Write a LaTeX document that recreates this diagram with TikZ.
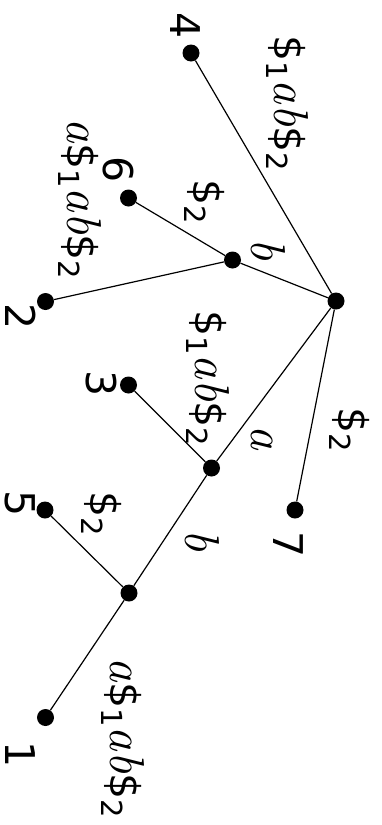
\documentclass[tikz,border=0pt]{standalone}
\usepackage{fontspec}
\setmainfont{DejaVu Sans}
\newfontfamily\lmit{Latin Modern Roman}
\newcommand\iv[1]{{\lmit\itshape\fontsize{49}{49}\selectfont #1}}
\newcommand\sbs[1]{\raisebox{-9pt}{\fontsize{29}{29}\selectfont #1}}
\begin{document}
\begin{tikzpicture}[x=1pt,y=-1pt,
  dot/.style={circle,fill=black,inner sep=0pt,minimum size=17pt},
  lbl/.style={rotate=-90,inner sep=0pt,font=\fontsize{41}{41}\selectfont},
  edge/.style={line width=1.2pt}]
\useasboundingbox (0,0) rectangle (382,825);
% internal nodes
\node[dot] (r) at (336,301) {};
\node[dot] (b) at (232.5,260) {};
\node[dot] (a) at (211.5,468) {};
\node[dot] (ab) at (129,593) {};
% leaves
\node[dot] (l4) at (191,53) {};
\node[dot] (l6) at (128.5,198) {};
\node[dot] (l2) at (45.5,301.5) {};
\node[dot] (l3) at (128.5,385) {};
\node[dot] (l7) at (295,510) {};
\node[dot] (l5) at (45,510) {};
\node[dot] (l1) at (45.5,717.5) {};
% edges
\draw[edge] (r) -- (l4);
\draw[edge] (r) -- (b);
\draw[edge] (b) -- (l6);
\draw[edge] (b) -- (l2);
\draw[edge] (r) -- (a);
\draw[edge] (r) -- (l7);
\draw[edge] (a) -- (l3);
\draw[edge] (a) -- (ab);
\draw[edge] (ab) -- (l5);
\draw[edge] (ab) -- (l1);
% leaf labels
\node[lbl] (t4) at (185,26) {4};
\node[lbl] (t6) at (118.5,170) {6};
\node[lbl] (t2) at (20.5,317) {2};
\node[lbl] (t3) at (101,384) {3};
\node[lbl] (t7) at (288,545) {7};
\node[lbl] (t5) at (20,504) {5};
\node[lbl] (t1) at (20.5,755) {1};
% edge labels
\node[lbl] (e4) at (287.5,103) {\$\sbs{1}\iv{ab}\$\sbs{2}};
\node[lbl] (e6) at (205,202) {\$\sbs{2}};
\node[lbl] (eb) at (268,250) {\iv{b}};
\node[lbl] (e2) at (80,199) {\iv{a}\$\sbs{1}\iv{ab}\$\sbs{2}};
\node[lbl] (e3) at (208,378) {\$\sbs{1}\iv{ab}\$\sbs{2}};
\node[lbl] (ea) at (262,438) {\iv{a}};
\node[lbl] (e7) at (350,430) {\$\sbs{2}};
\node[lbl] (e5) at (102,514) {\$\sbs{2}};
\node[lbl] (eab) at (202,541) {\iv{b}};
\node[lbl] (e1) at (123,738) {\iv{a}\$\sbs{1}\iv{ab}\$\sbs{2}};
\end{tikzpicture}
\end{document}
